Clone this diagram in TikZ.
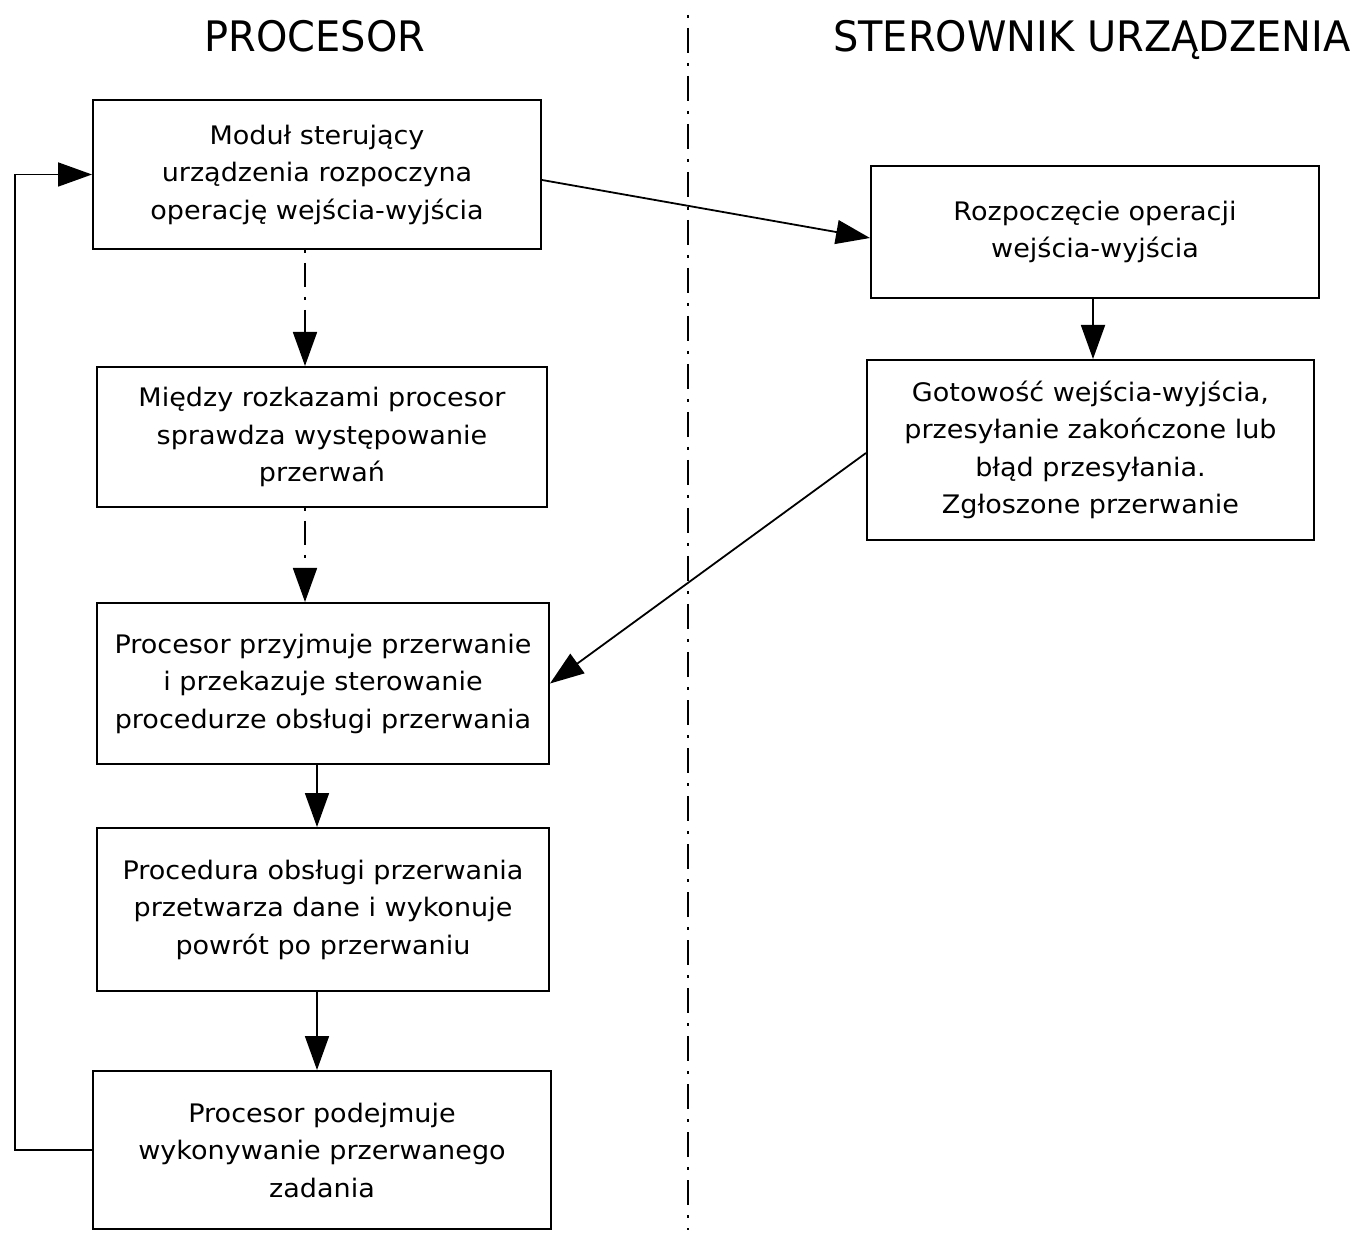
\documentclass[tikz,border=0pt]{standalone}
\usepackage{fontspec}
\setmainfont{DejaVu Sans}
\usetikzlibrary{arrows.meta}
\begin{document}
\begin{tikzpicture}[x=0.5pt,y=-0.5pt,
  box/.style={draw,line width=1pt,align=center,inner sep=0pt,
    font=\fontsize{12.75pt}{18.75pt}\selectfont\addfontfeature{FakeStretch=1.06}},
  title/.style={anchor=base,font=\fontsize{21pt}{25pt}\selectfont\addfontfeature{FakeStretch=0.95}},
  conn/.style={line width=0.9pt,-{Triangle[length=17pt,width=12pt]}},
  dashdot/.style={dash pattern=on 1.5pt off 5pt on 12pt off 5pt}]
\useasboundingbox (0,0) rectangle (1359,1234);

% column headings
\node[title] (hproc) at (315,52) {PROCESOR};
\node[title] (hster) at (1092,52) {STEROWNIK URZĄDZENIA};

% column divider
\draw[line width=0.7pt,dash pattern=on 1.5pt off 5pt on 12.5pt off 5pt] (688,15) -- (688,1230);

% processor side
\node[box,minimum width=224pt,minimum height=74.5pt] (b1) at (317,174.5)
  {Moduł sterujący\\urządzenia rozpoczyna\\operację wejścia-wyjścia};
\node[box,minimum width=225pt,minimum height=70pt] (b2) at (322,437)
  {Między rozkazami procesor\\sprawdza występowanie\\przerwań};
\node[box,minimum width=226pt,minimum height=80.5pt] (b3) at (323,683.5)
  {Procesor przyjmuje przerwanie\\i przekazuje sterowanie\\procedurze obsługi przerwania};
\node[box,minimum width=226pt,minimum height=81.5pt] (b4) at (323,909.5)
  {Procedura obsługi przerwania\\przetwarza dane i wykonuje\\powrót po przerwaniu};
\node[box,minimum width=229pt,minimum height=79pt] (b5) at (322,1150)
  {Procesor podejmuje\\wykonywanie przerwanego\\zadania};

% device controller side
\node[box,minimum width=224pt,minimum height=66pt] (r1) at (1095,232)
  {Rozpoczęcie operacji\\wejścia-wyjścia};
\node[box,minimum width=223.5pt,minimum height=90pt] (r2) at (1090.5,450)
  {Gotowość wejścia-wyjścia,\\przesyłanie zakończone lub\\błąd przesyłania.\\Zgłoszone przerwanie};

% guide coordinates for vertical connectors and the loop
\coordinate (xa) at (305,0);
\coordinate (xb) at (317,0);
\coordinate (xr) at (1093,0);
\coordinate (xl) at (15,0);

% connectors
\draw[conn] ([yshift=-2.75pt]b1.east) -- ([yshift=-3pt]r1.west);
\draw[conn,dashdot] (b1.south -| xa) -- (b2.north -| xa);
\draw[conn,dashdot] (b2.south -| xa) -- (b3.north -| xa);
\draw[conn] (b3.south -| xb) -- (b4.north -| xb);
\draw[conn] (b4.south -| xb) -- (b5.north -| xb);
\draw[conn] (r1.south -| xr) -- (r2.north -| xr);
\draw[conn] ([yshift=-1.5pt]r2.west) -- (b3.east);
\draw[conn] (b5.west) -- (b5.west -| xl) -- (b1.west -| xl) -- (b1.west);
\end{tikzpicture}
\end{document}
